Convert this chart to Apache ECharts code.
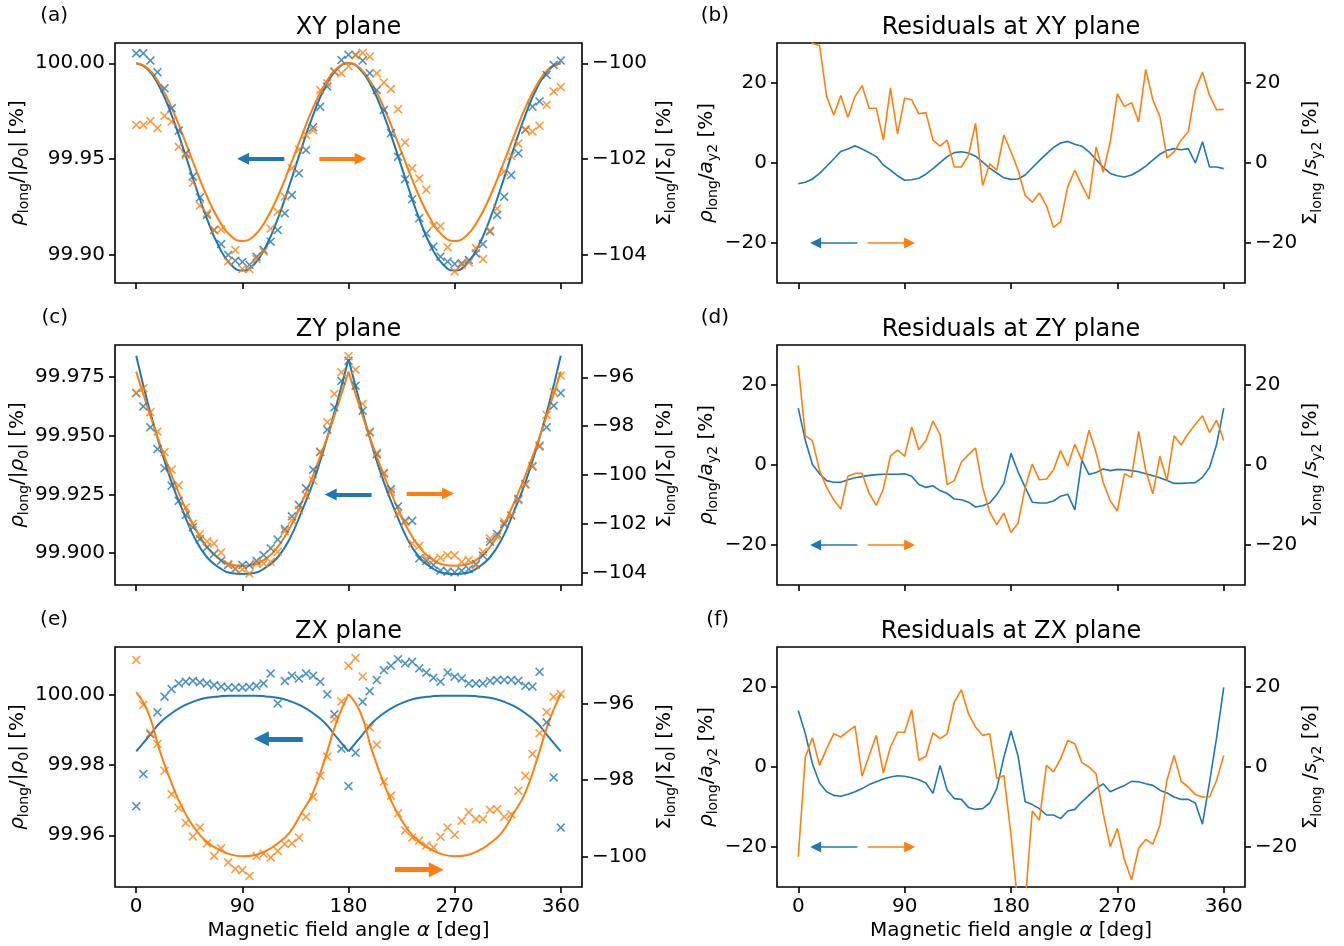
<!DOCTYPE html>
<html>
<head>
<meta charset="utf-8">
<script src="https://cdn.jsdelivr.net/npm/echarts@6/dist/echarts.min.js"></script>
<style>html,body{margin:0;padding:0;background:#fff}#chart{width:1344px;height:946px}</style>
</head>
<body>
<div id="chart"></div>
<script>
// measurement angles (deg) and tick positions
const ANGLES = [0,6,12,18,24,30,36,42,48,54,60,66,72,78,84,90,96,102,108,114,120,126,132,138,144,150,156,162,168,174,180,
  186,192,198,204,210,216,222,228,234,240,246,252,258,264,270,276,282,288,294,300,306,312,318,324,330,336,342,348,354,360];
const FIT_ANGLES = [0,10,20,30,40,50,60,70,80,90,100,110,120,130,140,150,160,170,180,
  190,200,210,220,230,240,250,260,270,280,290,300,310,320,330,340,350,360];
const X_TICKS = [0,90,180,270,360];

// (a) XY plane
const XY_RHO = [100.0052,100.0052,100.0014,99.9953,99.9869,99.9764,99.9648,99.9529,99.9407,99.9298,99.9206,99.9127,99.9054,99.8997,99.8967,99.8960,99.8945,99.8988,99.9023,99.9066,99.9127,99.9215,99.9310,99.9424,99.9546,99.9665,99.9773,99.9878,99.9956,100.0017,100.0044,
  100.0044,100.0014,99.9948,99.9860,99.9756,99.9634,99.9511,99.9393,99.9288,99.9189,99.9110,99.9040,99.8988,99.8962,99.8950,99.8953,99.8970,99.9005,99.9054,99.9119,99.9206,99.9302,99.9415,99.9529,99.9651,99.9773,99.9800,99.9939,99.9991,100.0014];
const XY_SIG = [-101.29,-101.29,-101.21,-101.36,-101.10,-101.22,-101.75,-101.92,-102.50,-102.98,-103.14,-103.49,-103.48,-104.15,-103.91,-104.31,-104.31,-104.10,-103.94,-103.46,-103.11,-102.79,-102.20,-101.81,-101.50,-101.40,-100.56,-100.42,-100.17,-100.21,-100.06,
  -99.83,-99.78,-99.86,-100.21,-100.40,-100.54,-100.96,-101.66,-102.20,-102.41,-102.65,-103.40,-103.41,-103.85,-104.36,-104.22,-104.17,-103.87,-104.10,-103.50,-103.04,-102.27,-101.94,-101.68,-101.38,-101.43,-101.31,-100.87,-100.59,-100.50];
const XY_RHO_FIT = [100.0000,99.9967,99.9873,99.9729,99.9552,99.9363,99.9186,99.9042,99.8948,99.8915,99.8948,99.9042,99.9186,99.9363,99.9552,99.9729,99.9873,99.9967,100.0000,
  99.9967,99.9873,99.9729,99.9552,99.9363,99.9186,99.9042,99.8948,99.8915,99.8948,99.9042,99.9186,99.9363,99.9552,99.9729,99.9873,99.9967,100.0000];
const XY_SIG_FIT = [-100.00,-100.11,-100.44,-100.93,-101.54,-102.18,-102.79,-103.28,-103.61,-103.72,-103.61,-103.28,-102.79,-102.18,-101.54,-100.93,-100.44,-100.11,-100.00,
  -100.11,-100.44,-100.93,-101.54,-102.18,-102.79,-103.28,-103.61,-103.72,-103.61,-103.28,-102.79,-102.18,-101.54,-100.93,-100.44,-100.11,-100.00];

// (b) residuals XY
const XY_RES_RHO = [-5.2,-4.8,-4.0,-2.6,-0.8,1.0,2.9,3.5,4.3,3.5,2.6,1.6,-0.5,-1.8,-3.2,-4.3,-4.2,-3.8,-2.8,-1.4,0.1,1.6,2.6,2.8,2.5,1.7,0.2,-1.3,-2.5,-3.7,-4.1,
  -4.0,-3.0,-1.2,0.6,2.3,3.9,5.0,5.4,4.7,4.2,2.8,0.9,-1.1,-2.6,-3.2,-3.5,-3.0,-2.0,-0.8,0.7,2.2,3.2,3.6,3.3,3.6,0.0,5.3,-1.0,-1.0,-1.4];
const XY_RES_SIG = [38,35,29.9,29.4,16.6,12.0,16.9,11.4,16.6,19.3,13.7,13.7,5.7,18.7,7.2,16.2,15.8,12.3,12.6,5.7,4.2,5.7,-1.0,-1.0,1.9,9.9,-5.6,-0.2,-1.8,7.0,2.8,
  -1.8,-8.1,-9.8,-7.5,-10.7,-16.1,-14.7,-5.9,-1.8,-5.6,-9.0,4.0,-2.3,5.3,17.3,14.1,15.1,10.3,23.4,15.8,11.6,1.3,2.8,5.7,7.8,18.3,22.7,16.9,13.3,13.4];

// (c) ZY plane
const ZY_RHO = [99.9681,99.9624,99.9535,99.9443,99.9361,99.9287,99.9223,99.9162,99.9110,99.9060,99.9025,99.8997,99.8968,99.8950,99.8933,99.8950,99.8950,99.8968,99.8992,99.9021,99.9058,99.9103,99.9157,99.9205,99.9276,99.9355,99.9431,99.9525,99.9620,99.9733,99.9818,
  99.9712,99.9606,99.9514,99.9421,99.9341,99.9273,99.9199,99.9138,99.9138,99.8978,99.8968,99.8950,99.8926,99.8922,99.8919,99.8926,99.8933,99.8954,99.8990,99.9049,99.9082,99.9124,99.9160,99.9230,99.9294,99.9369,99.9454,99.9535,99.9627,99.9681];
const ZY_SIG = [-96.64,-96.45,-97.43,-98.22,-99.06,-99.77,-100.42,-101.33,-101.99,-102.42,-102.71,-102.80,-103.17,-103.65,-103.82,-103.86,-104.03,-103.62,-103.62,-103.55,-103.14,-102.30,-101.85,-101.44,-100.83,-100.22,-99.06,-97.84,-96.68,-95.80,-95.14,
  -95.69,-97.09,-98.22,-99.09,-99.95,-100.69,-101.58,-101.92,-102.80,-102.90,-103.41,-103.48,-103.39,-103.28,-103.28,-103.55,-103.48,-103.69,-103.14,-102.60,-102.53,-101.92,-101.65,-101.03,-100.39,-99.63,-98.79,-97.54,-96.61,-95.93];
const ZY_RHO_FIT = [99.9839,99.9634,99.9457,99.9301,99.9174,99.9060,99.8983,99.8940,99.8916,99.8912,99.8916,99.8940,99.8983,99.9060,99.9174,99.9301,99.9457,99.9634,99.9825,
  99.9634,99.9457,99.9301,99.9174,99.9060,99.8983,99.8940,99.8916,99.8912,99.8916,99.8940,99.8983,99.9060,99.9174,99.9301,99.9457,99.9634,99.9839];
const ZY_SIG_FIT = [-95.77,-97.29,-98.72,-100.01,-101.17,-102.19,-102.94,-103.41,-103.66,-103.71,-103.66,-103.41,-102.94,-102.19,-101.17,-100.01,-98.72,-97.29,-95.77,
  -97.29,-98.72,-100.01,-101.17,-102.19,-102.94,-103.41,-103.66,-103.71,-103.66,-103.41,-102.94,-102.19,-101.17,-100.01,-98.72,-97.29,-95.77];

// (d) residuals ZY
const ZY_RES_RHO = [14.2,6.1,0.1,-2.2,-3.9,-4.3,-4.3,-3.7,-3.2,-2.9,-2.6,-2.4,-2.3,-2.3,-2.3,-2.2,-2.8,-4.9,-5.6,-5.2,-6.4,-7.1,-8.5,-8.7,-9.3,-10.5,-10.2,-9.5,-7.4,-4.6,2.9,
  -1.7,-5.6,-9.3,-9.5,-9.5,-9.0,-7.8,-7.3,-11.2,1.2,-2.4,-1.9,-1.0,-1.4,-1.1,-1.2,-1.4,-1.7,-2.2,-2.7,-3.2,-3.9,-4.6,-4.6,-4.5,-4.4,-3.1,-0.6,5.2,14.2];
const ZY_RES_SIG = [24.9,7.3,6.1,-1.4,-5.6,-8.7,-11.0,-2.8,-2.1,-2.1,-7.1,-10.1,-6.0,2.3,3.7,2.2,9.5,3.8,6.1,11.0,7.6,-4.9,-3.9,0.7,2.6,4.2,-5.6,-11.8,-14.9,-12.0,-16.9,
  -14.5,-5.6,0.2,-3.7,-3.5,-1.2,3.6,-0.3,5.2,1.1,8.7,3.2,-4.3,-9.0,-11.5,-2.2,-3.1,8.4,-1.4,-7.2,2.2,-3.9,7.3,5.0,7.9,10.2,12.3,8.1,11.2,6.1];

// (e) ZX plane
const ZX_RHO = [99.9683,99.9775,99.9888,99.9951,99.9995,100.0017,100.0033,100.0038,100.0040,100.0036,100.0033,100.0028,100.0024,100.0021,100.0021,100.0021,100.0023,100.0026,100.0033,100.0061,99.9976,100.0040,100.0055,100.0047,100.0061,100.0055,100.0038,100.0002,99.9945,99.9847,99.9740,
  99.9835,99.9981,100.0011,100.0043,100.0071,100.0083,100.0102,100.0090,100.0095,100.0076,100.0064,100.0049,100.0038,100.0064,100.0052,100.0047,100.0033,100.0033,100.0033,100.0040,100.0043,100.0043,100.0043,100.0040,100.0026,100.0024,100.0066,99.9922,99.9765,99.9622];
const ZX_SIG = [-94.87,-96.04,-96.78,-97.06,-97.76,-98.37,-98.73,-99.12,-99.47,-99.24,-99.65,-99.98,-99.78,-100.15,-100.32,-100.35,-100.50,-99.98,-99.92,-100.02,-99.85,-99.67,-99.65,-99.50,-98.96,-98.44,-97.89,-97.39,-96.41,-95.95,-95.02,
  -94.82,-95.30,-96.63,-97.08,-98.04,-98.41,-98.87,-99.32,-99.50,-99.58,-99.71,-99.76,-99.48,-99.24,-99.43,-99.06,-98.84,-99.02,-99.02,-98.78,-98.76,-98.96,-98.89,-98.28,-97.89,-97.32,-96.78,-96.23,-95.83,-95.76];
const ZX_RHO_FIT = [99.9839,99.9879,99.9920,99.9948,99.9969,99.9983,99.9992,99.9996,99.9998,99.9998,99.9998,99.9996,99.9992,99.9983,99.9969,99.9948,99.9920,99.9879,99.9839,
  99.9879,99.9920,99.9948,99.9969,99.9983,99.9992,99.9996,99.9998,99.9998,99.9998,99.9996,99.9992,99.9983,99.9969,99.9948,99.9920,99.9879,99.9839];
const ZX_SIG_FIT = [-95.71,-96.23,-97.24,-98.09,-98.78,-99.28,-99.62,-99.81,-99.94,-99.99,-99.96,-99.85,-99.65,-99.37,-98.87,-98.32,-97.45,-96.47,-95.76,
  -96.23,-97.24,-98.09,-98.78,-99.28,-99.62,-99.81,-99.94,-99.99,-99.96,-99.85,-99.65,-99.37,-98.87,-98.32,-97.45,-96.47,-95.76];

// (f) residuals ZX
const ZX_RES_RHO = [14.1,8.3,0.8,-4.0,-6.2,-7.1,-7.3,-6.8,-6.2,-5.4,-4.4,-3.7,-3.0,-2.5,-2.2,-2.3,-2.7,-3.2,-4.0,-6.6,0.4,-5.8,-7.9,-8.1,-10.1,-10.6,-10.4,-9.0,-5.4,2.5,9.0,
  2.7,-8.7,-9.4,-10.4,-12.0,-12.0,-12.9,-11.0,-10.6,-8.7,-7.1,-5.4,-4.2,-6.2,-5.4,-4.6,-3.6,-3.7,-4.2,-4.6,-5.8,-6.5,-7.5,-8.1,-8.1,-9.0,-14.3,-3.8,7.4,19.9];
const ZX_RES_SIG = [-22.4,2.5,7.3,0.4,4.6,8.3,7.5,8.9,10.2,-2.3,2.9,7.9,-1.5,5.0,8.7,8.7,14.3,1.7,2.7,8.5,7.1,8.3,16.2,19.3,13.3,10.0,7.9,8.3,-2.9,-2.1,-17,
  -35,-34,-11.0,-13.3,0.4,-1.2,2.1,6.6,5.8,1.1,0,-1.7,-11.6,-19.9,-15.4,-23.2,-28.2,-20.3,-18.1,-19.3,-14.5,-3.3,2.9,-3.6,-5.0,-6.9,-7.5,-7.5,-3.3,2.9];

const BLUE = '#1f77b4', ORANGE = '#ff7f0e';
const FONT = 'DejaVu Sans';
// filled "x" marker
const XMARK = 'path://M0,1.25L1.25,0L5,3.75L8.75,0L10,1.25L6.25,5L10,8.75L8.75,10L5,6.25L1.25,10L0,8.75L3.75,5Z';

const chart = echarts.init(document.getElementById('chart'));

const txt = {color: '#000', fontFamily: FONT, fontSize: 20};
const rich = {
  i: {fontStyle: 'italic', fontFamily: FONT, fontSize: 20, color: '#000'},
  s: {fontFamily: FONT, fontSize: 14, color: '#000', padding: [12, 0, 0, 0]}
};
const minus = s => String(s).replace('-', '\u2212');
const pairs = (xs, ys) => xs.map((x, k) => [x, ys[k]]);

const grids = [], xAxes = [], yAxes = [], series = [], graphics = [];

function arrow(color, from, to, width, head) {
  return {
    silent: true, animation: false,
    symbol: ['none', 'triangle'], symbolSize: head,
    label: {show: false}, emphasis: {disabled: true},
    lineStyle: {color: color, width: width, type: 'solid', opacity: 1},
    data: [[{coord: from}, {coord: to}]]
  };
}

function yAxis(idx, pos, range, ticks, dec, name, gap) {
  return {
    type: 'value', gridIndex: idx, position: pos, min: range[0], max: range[1],
    axisLine: {show: false, onZero: false}, splitLine: {show: false},
    axisTick: {show: true, length: 6, lineStyle: {color: '#000', width: 1.6}, customValues: ticks},
    axisLabel: Object.assign({customValues: ticks, margin: 10, formatter: v => minus(v.toFixed(dec))}, txt),
    name: name, nameLocation: 'middle', nameRotate: 90, nameGap: gap,
    nameTextStyle: Object.assign({rich: rich}, txt)
  };
}

function addPanel(p) {
  const idx = grids.length;
  const bottom = p.row === 2;
  const left = p.col === 0 ? 115 : 777;
  const top = [43, 345, 647][p.row];
  grids.push({left: left, top: top, width: p.col === 0 ? 467 : 468, height: 240,
    show: true, borderColor: '#000', borderWidth: 1.6});
  xAxes.push({
    type: 'value', gridIndex: idx, min: -18, max: 378,
    axisLine: {show: false, onZero: false}, splitLine: {show: false},
    axisTick: {show: true, length: 6, lineStyle: {color: '#000', width: 1.6}, customValues: X_TICKS},
    axisLabel: Object.assign({show: bottom, customValues: X_TICKS, margin: 10}, txt),
    name: bottom ? 'Magnetic field angle {i|α} [deg]' : '',
    nameLocation: 'middle', nameGap: 34,
    nameTextStyle: Object.assign({rich: rich}, txt)
  });
  const yl = yAxes.length;
  if (p.col === 0) {
    yAxes.push(yAxis(idx, 'left', p.yl, p.ylTicks, p.ylDec, '{i|ρ}{s|long}/|{i|ρ}{s|0}| [%]', 84));
    yAxes.push(yAxis(idx, 'right', p.yr, p.yrTicks, 0, 'Σ{s|long}/|Σ{s|0}| [%]', 70));
  } else {
    yAxes.push(yAxis(idx, 'left', [-30, 30], [-20, 0, 20], 0, '{i|ρ}{s|long}/{i|a}{s|y2} [%]', 57));
    yAxes.push(yAxis(idx, 'right', [-30, 30], [-20, 0, 20], 0, 'Σ{s|long} /{i|s}{s|y2} [%]', 51));
  }
  const cx = left + (p.col === 0 ? 233.5 : 234);
  graphics.push({type: 'text', x: cx, y: top - 15, style: {text: p.title, textAlign: 'center', textVerticalAlign: 'middle',
    fontSize: 24, fontFamily: FONT, fill: '#000'}});
  graphics.push({type: 'text', x: p.col === 0 ? 68 : 729, y: top - 27, style: {text: p.tag, textAlign: 'right', textVerticalAlign: 'middle',
    fontSize: 20, fontFamily: FONT, fill: '#000'}});

  if (p.col === 0) {
    const scat = (data, y, color) => ({type: 'scatter', xAxisIndex: idx, yAxisIndex: y, data: data,
      symbol: XMARK, symbolSize: 9, itemStyle: {color: color}, z: 3});
    const fit = (data, y, color, ml) => ({type: 'line', xAxisIndex: idx, yAxisIndex: y, data: data, smooth: 0.5,
      showSymbol: false, lineStyle: {color: color, width: 2}, itemStyle: {color: color}, z: 2, markLine: ml});
    series.push(scat(pairs(ANGLES, p.rho), yl, BLUE));
    series.push(scat(pairs(ANGLES, p.sig), yl + 1, ORANGE));
    const rf = pairs(FIT_ANGLES, p.rhoFit), sf = pairs(FIT_ANGLES, p.sigFit);
    const ba = arrow(BLUE, p.blueArrow[0], p.blueArrow[1], p.aw, p.head);
    const oa = arrow(ORANGE, p.orangeArrow[0], p.orangeArrow[1], p.aw, p.head);
    if (p.cusp) {
      series.push(fit(rf.slice(0, 19), yl, BLUE, ba));
      series.push(fit(rf.slice(18), yl, BLUE));
      series.push(fit(sf.slice(0, 19), yl + 1, ORANGE, oa));
      series.push(fit(sf.slice(18), yl + 1, ORANGE));
    } else {
      series.push(fit(rf, yl, BLUE, ba));
      series.push(fit(sf, yl + 1, ORANGE, oa));
    }
  } else {
    const res = (data, y, color, ml) => ({type: 'line', xAxisIndex: idx, yAxisIndex: y, data: data,
      showSymbol: false, lineStyle: {color: color, width: 1.6}, itemStyle: {color: color}, markLine: ml});
    series.push(res(pairs(ANGLES, p.rho), yl, BLUE, arrow(BLUE, [50, -20], [14.7, -20], 1.6, 11)));
    series.push(res(pairs(ANGLES, p.sig), yl + 1, ORANGE, arrow(ORANGE, [58.8, -20], [94.2, -20], 1.6, 11)));
  }
}

addPanel({row: 0, col: 0, title: 'XY plane', tag: '(a)', rho: XY_RHO, sig: XY_SIG, rhoFit: XY_RHO_FIT, sigFit: XY_SIG_FIT,
  yl: [99.885, 100.0106], ylTicks: [99.90, 99.95, 100.00], ylDec: 2,
  yr: [-104.601, -99.575], yrTicks: [-104, -102, -100],
  blueArrow: [[125.6, 99.95], [90.6, 99.95]], orangeArrow: [[155.3, -102], [190.3, -102]], aw: 4, head: 12});
addPanel({row: 0, col: 1, title: 'Residuals at XY plane', tag: '(b)', rho: XY_RES_RHO, sig: XY_RES_SIG});
addPanel({row: 1, col: 0, title: 'ZY plane', tag: '(c)', rho: ZY_RHO, sig: ZY_SIG, rhoFit: ZY_RHO_FIT, sigFit: ZY_SIG_FIT, cusp: true,
  yl: [99.8865, 99.9885], ylTicks: [99.900, 99.925, 99.950, 99.975], ylDec: 3,
  yr: [-104.50, -94.68], yrTicks: [-104, -102, -100, -98, -96],
  blueArrow: [[199.6, 99.925], [164.9, 99.925]], orangeArrow: [[229.3, -100.76], [264.5, -100.76]], aw: 4, head: 12});
addPanel({row: 1, col: 1, title: 'Residuals at ZY plane', tag: '(d)', rho: ZY_RES_RHO, sig: ZY_RES_SIG});
addPanel({row: 2, col: 0, title: 'ZX plane', tag: '(e)', rho: ZX_RHO, sig: ZX_SIG, rhoFit: ZX_RHO_FIT, sigFit: ZX_SIG_FIT, cusp: true,
  yl: [99.94526, 100.01368], ylTicks: [99.96, 99.98, 100.00], ylDec: 2,
  yr: [-100.79, -94.532], yrTicks: [-100, -98, -96],
  blueArrow: [[141.2, 99.98752], [106.1, 99.98752]], orangeArrow: [[219.4, -100.34], [254.4, -100.34]], aw: 5, head: 15});
addPanel({row: 2, col: 1, title: 'Residuals at ZX plane', tag: '(f)', rho: ZX_RES_RHO, sig: ZX_RES_SIG});

chart.setOption({
  backgroundColor: '#fff',
  animation: false,
  grid: grids,
  xAxis: xAxes,
  yAxis: yAxes,
  series: series,
  graphic: graphics
});
</script>
</body>
</html>
